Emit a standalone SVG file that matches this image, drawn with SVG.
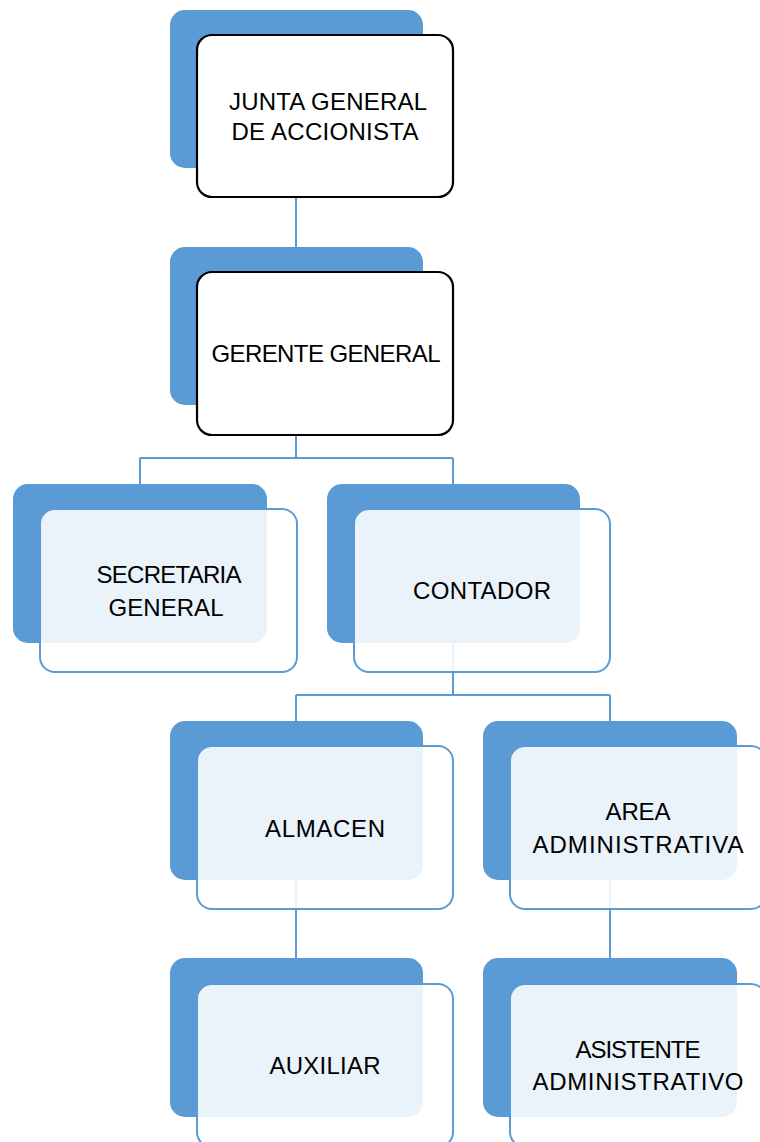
<svg xmlns="http://www.w3.org/2000/svg" width="760" height="1142" viewBox="0 0 760 1142">
<style>
.back{fill:#5B9BD5;}
.frontw{fill:#FFFFFF;stroke:#000000;stroke-width:2.2;}
.frontb{fill:#FFFFFF;fill-opacity:0.87;stroke:#5B9BD5;stroke-width:2;}
.conn{fill:none;stroke:#5B9BD5;stroke-width:2;}
text{font-family:"Liberation Sans",Arial,sans-serif;font-size:24px;fill:#000000;text-anchor:middle;}
</style>
<rect width="760" height="1142" fill="#FFFFFF"/>
<g id="connectors">
<path class="conn" d="M296 197 V247"/>
<path class="conn" d="M296 435 V458 M140 458 H453 M140 458 V484 M453 458 V484"/>
<path class="conn" d="M453 643 V695 M296 695 H610 M296 695 V721 M610 695 V721"/>
<path class="conn" d="M296 880 V958"/>
<path class="conn" d="M610 880 V958"/>
</g>
<g id="junta">
<rect class="back" x="170" y="10" width="253" height="158" rx="15"/>
<rect class="frontw" x="197" y="35" width="256" height="162" rx="15"/>
<text x="328" y="110" textLength="198">JUNTA GENERAL</text>
<text x="325" y="140" textLength="187">DE ACCIONISTA</text>
</g>
<g id="gerente">
<rect class="back" x="170" y="247" width="253" height="158" rx="15"/>
<rect class="frontw" x="197" y="272" width="256" height="163" rx="15"/>
<text x="326" y="362" textLength="229">GERENTE GENERAL</text>
</g>
<g id="secretaria">
<rect class="back" x="13" y="484" width="254" height="159" rx="15"/>
<rect class="frontb" x="40" y="509" width="257" height="163" rx="15"/>
<text x="169" y="583" textLength="145">SECRETARIA</text>
<text x="166" y="616" textLength="115">GENERAL</text>
</g>
<g id="contador">
<rect class="back" x="327" y="484" width="253" height="159" rx="15"/>
<rect class="frontb" x="354" y="509" width="256" height="163" rx="15"/>
<text x="482" y="599" textLength="138">CONTADOR</text>
</g>
<g id="almacen">
<rect class="back" x="170" y="721" width="253" height="159" rx="15"/>
<rect class="frontb" x="197" y="746" width="256" height="163" rx="15"/>
<text x="325" y="837" textLength="120">ALMACEN</text>
</g>
<g id="area">
<rect class="back" x="483" y="721" width="254" height="159" rx="15"/>
<rect class="frontb" x="510" y="746" width="256" height="163" rx="15"/>
<text x="638" y="820" textLength="65">AREA</text>
<text x="638" y="853" textLength="211">ADMINISTRATIVA</text>
</g>
<g id="auxiliar">
<rect class="back" x="170" y="958" width="253" height="159" rx="15"/>
<rect class="frontb" x="197" y="984" width="256" height="163" rx="15"/>
<text x="325" y="1074" textLength="111">AUXILIAR</text>
</g>
<g id="asistente">
<rect class="back" x="483" y="958" width="254" height="159" rx="15"/>
<rect class="frontb" x="510" y="984" width="256" height="163" rx="15"/>
<text x="638" y="1058" textLength="125">ASISTENTE</text>
<text x="638" y="1090" textLength="211">ADMINISTRATIVO</text>
</g>
</svg>
